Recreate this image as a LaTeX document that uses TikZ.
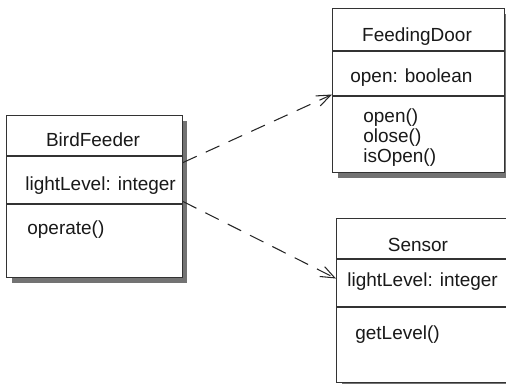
\documentclass[tikz,border=0pt]{standalone}
\usepackage{fontspec}
\setmainfont{Liberation Sans}
\usetikzlibrary{arrows.meta,shadows}
\begin{document}
\begin{tikzpicture}[x=0.02cm, y=-0.02cm, font=\fontsize{10.8}{11.4}\selectfont]
        \useasboundingbox (0,0) rectangle (506,383);
        \clip (0,0) rectangle (506,383);
        \begin{scope}[every node/.style={draw=black!80, line width=0.6pt, fill=white, anchor=north west, inner sep=0pt,
                drop shadow={shadow xshift=0.1cm, shadow yshift=-0.1cm, fill=black!55, opacity=1}}]
            \node[minimum width=3.52cm, minimum height=3.24cm] (feeder) at (6,115) {};
            \node[minimum width=3.44cm, minimum height=3.28cm] (door) at (332,8) {};
            \node[minimum width=3.8cm, minimum height=3.28cm] (sensor) at (336,218) {};
        \end{scope}
        \begin{scope}[draw=black!80, line width=0.6pt]
            \draw (feeder.west |- 0,156) -- (feeder.east |- 0,156);
            \draw (feeder.west |- 0,204) -- (feeder.east |- 0,204);
            \draw (door.west |- 0,51) -- (door.east |- 0,51);
            \draw (door.west |- 0,96) -- (door.east |- 0,96);
            \draw (sensor.west |- 0,259) -- (sensor.east |- 0,259);
            \draw (sensor.west |- 0,307) -- (sensor.east |- 0,307);
        \end{scope}
        \begin{scope}[every node/.style={anchor=base west, inner sep=0pt, text=black!90}]
            \node[anchor=base] (feedername) at (93,146) {BirdFeeder};
            \node (feederattr) at (25,190) {lightLevel: integer};
            \node (feederop) at (27,234) {operate()};
            \node[anchor=base] (doorname) at (417,41) {FeedingDoor};
            \node (doorattr) at (350,82) {open: boolean};
            \node (dooropen) at (363,122) {open()};
            \node (doorclose) at (363,142) {olose()};
            \node (doorisopen) at (363,162) {isOpen()};
            \node[anchor=base] (sensorname) at (418,251) {Sensor};
            \node (sensorattr) at (347,286) {lightLevel: integer};
            \node (sensorop) at (355,339) {getLevel()};
        \end{scope}
        \begin{scope}[every edge/.style={draw=black!85, line width=0.6pt, dash pattern=on 0.3cm off 0.2cm,
                -{Straight Barb[length=0.28cm, width=0.22cm]}}]
            \draw ([yshift=0.68cm]feeder.east) edge ([yshift=-0.08cm]door.west);
            \draw ([yshift=-0.1cm]feeder.east) edge ([yshift=0.44cm]sensor.west);
        \end{scope}
    \end{tikzpicture}
\end{document}
